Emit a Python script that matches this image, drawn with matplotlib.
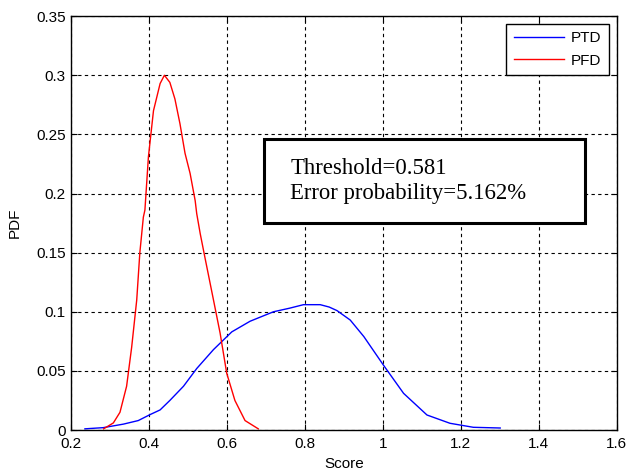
import matplotlib
matplotlib.use("Agg")
import matplotlib.pyplot as plt
from matplotlib.patches import Rectangle

# data
ptd_x = [0.235, 0.282, 0.334, 0.372, 0.402, 0.428, 0.453, 0.488, 0.522, 0.565,
         0.612, 0.659, 0.719, 0.760, 0.796, 0.839, 0.862, 0.882, 0.916, 0.951,
         1.001, 1.053, 1.113, 1.172, 1.232, 1.301]
ptd_y = [0.001, 0.002, 0.005, 0.008, 0.013, 0.017, 0.025, 0.037, 0.052, 0.068,
         0.083, 0.092, 0.100, 0.103, 0.106, 0.106, 0.104, 0.101, 0.093, 0.079,
         0.055, 0.031, 0.0127, 0.0057, 0.0023, 0.0017]

pfd_x = [0.283, 0.308, 0.325, 0.342, 0.355, 0.368, 0.376, 0.385, 0.389, 0.398,
         0.411, 0.428, 0.439, 0.453, 0.466, 0.479, 0.492, 0.505, 0.518, 0.522,
         0.531, 0.543, 0.565, 0.582, 0.599, 0.620, 0.646, 0.680]
pfd_y = [0.001, 0.006, 0.015, 0.037, 0.070, 0.110, 0.150, 0.180, 0.186, 0.231,
         0.270, 0.293, 0.300, 0.294, 0.280, 0.259, 0.234, 0.217, 0.194, 0.183,
         0.166, 0.146, 0.110, 0.082, 0.048, 0.025, 0.008, 0.001]

threshold = 0.581
error_prob = 5.162

plt.rcParams['font.family'] = ['Liberation Sans', 'DejaVu Sans']

fig = plt.figure(figsize=(6.28, 4.75), dpi=100)
ax = fig.add_axes([0.1135, 0.0947, 0.8685, 0.8713])

ax.plot(ptd_x, ptd_y, color="blue", lw=1.0, label="PTD")
ax.plot(pfd_x, pfd_y, color="red", lw=1.0, label="PFD")

ax.set_xlim(0.2, 1.6)
ax.set_ylim(0, 0.35)
ax.set_xticks([0.2, 0.4, 0.6, 0.8, 1.0, 1.2, 1.4, 1.6])
ax.set_xticklabels(["0.2", "0.4", "0.6", "0.8", "1", "1.2", "1.4", "1.6"])
ax.set_yticks([0, 0.05, 0.1, 0.15, 0.2, 0.25, 0.3, 0.35])
ax.set_yticklabels(["0", "0.05", "0.1", "0.15", "0.2", "0.25", "0.3", "0.35"])
ax.grid(True, color="black", linestyle=(0, (3, 3)), lw=0.8)
ax.tick_params(direction="in", labelsize=11, length=4, top=True, right=True, pad=4)
ax.tick_params(axis="x", pad=5)
for s in ax.spines.values():
    s.set_linewidth(1.0)
ax.set_xlabel("Score", fontsize=11, labelpad=4)
ax.set_ylabel("PDF", fontsize=11, labelpad=10)

leg = ax.legend(loc="upper right", fontsize=11, fancybox=False, framealpha=1,
                edgecolor="black", borderpad=0.5, handlelength=3.3,
                handletextpad=0.45, labelspacing=0.55, borderaxespad=0.5)
leg.get_frame().set_linewidth(1.0)

# annotation box
ax.add_patch(Rectangle((0.695, 0.1751), 0.824, 0.0707, transform=ax.transData,
                       facecolor="white", edgecolor="black", lw=2.2, zorder=5))
ax.text(0.762, 0.2215, f"Threshold={threshold}", fontsize=16.4,
        family="Liberation Serif", va="center", zorder=6)
ax.text(0.762, 0.1999, f"Error probability={error_prob}%", fontsize=16.4,
        family="Liberation Serif", va="center", zorder=6)

fig.savefig("out.png", dpi=100)
